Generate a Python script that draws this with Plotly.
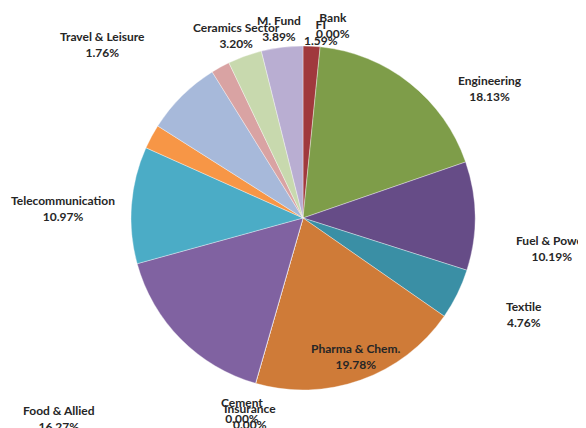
import plotly.graph_objects as go

# ---- data ----
sectors = ["Bank", "FI", "Engineering", "Fuel & Power", "Textile", "Pharma & Chem.",
           "Cement", "Insurance", "Food & Allied", "Telecommunication", "IT",
           "Services & Real Estate", "Travel & Leisure", "Ceramics Sector", "M. Fund"]
shares = [0.00, 1.59, 18.13, 10.19, 4.76, 19.78,
          0.00, 0.00, 16.27, 10.97, 2.30,
          7.16, 1.76, 3.20, 3.89]
show_label = [True, True, True, True, True, True,
              True, True, True, True, False,
              False, True, True, True]

# ---- styles ----
colors = ["#4F81BD", "#A0393D", "#7E9D49", "#664C87", "#3A8FA5", "#CF7B38",
          "#8C8C8C", "#8C8C8C", "#8062A1", "#4BACC6", "#F79646",
          "#A7B9DA", "#D9A3A3", "#C8D9AE", "#B9AED2"]
# label centres in window pixels (x, y from top)
label_pos = [(333, 26), (321, 32), (490, 88), (552, 249), (524, 314), (356, 356),
             (242, 410), (250, 416), (59, 418), (63, 208), None,
             None, (102, 44), (236, 36), (279, 28)]

OFF = 8  # page body margin offset of the plot div
W, H = 586 - OFF, 428 - OFF
cx, cy, r = 303 - OFF, 218 - OFF, 172

fig = go.Figure(go.Pie(
    labels=sectors,
    values=shares,
    sort=False,
    direction="clockwise",
    rotation=0,
    textinfo="none",
    hoverinfo="label+percent",
    marker=dict(colors=colors, line=dict(color="rgba(255,255,255,0.6)", width=0.6)),
    domain=dict(x=[(cx - r) / W, (cx + r) / W], y=[1 - (cy + r) / H, 1 - (cy - r) / H]),
    showlegend=False,
))

annotations = []
for name, val, show, pos in zip(sectors, shares, show_label, label_pos):
    if not show or pos is None:
        continue
    annotations.append(dict(
        x=(pos[0] - OFF) / W, y=1 - (pos[1] - OFF) / H, xref="paper", yref="paper",
        text=f"<b>{name}<br>{val:.2f}%</b>",
        showarrow=False, xanchor="center", yanchor="middle", align="center",
        font=dict(family="Lato, Liberation Sans, sans-serif", size=12, color="#262626"),
    ))

fig.update_layout(
    width=W, height=H,
    margin=dict(l=0, r=0, t=0, b=0),
    paper_bgcolor="white", plot_bgcolor="white",
    annotations=annotations,
)

fig.write_html("out.html")
